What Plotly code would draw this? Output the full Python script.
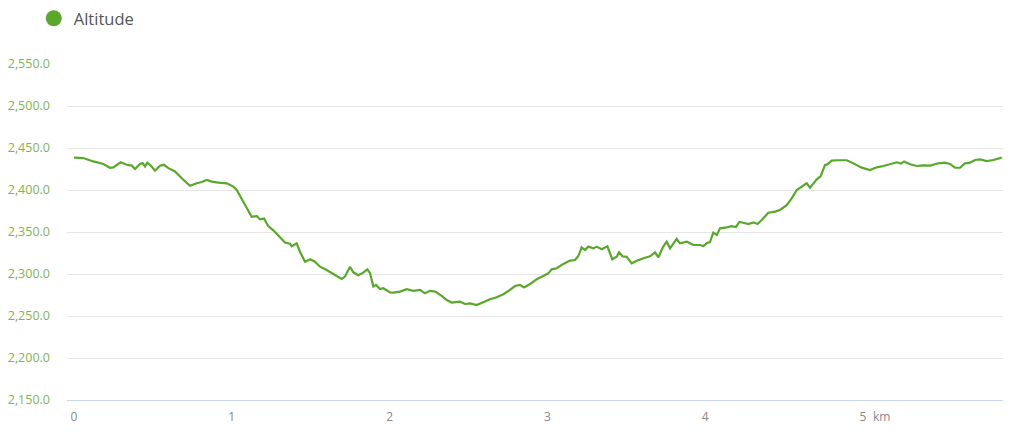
import plotly.graph_objects as go

# distance along the track (km) and altitude (m)
distance_km = [
    0.0, 0.059, 0.122, 0.186, 0.228, 0.249, 0.296, 0.334, 0.366, 0.387,
    0.418, 0.435, 0.450, 0.465, 0.492, 0.513, 0.545, 0.570, 0.598, 0.640,
    0.683, 0.735, 0.778, 0.809, 0.841, 0.873, 0.914, 0.968, 1.010, 1.031,
    1.073, 1.126, 1.158, 1.179, 1.204, 1.231, 1.263, 1.305, 1.337, 1.369,
    1.380, 1.411, 1.432, 1.464, 1.496, 1.527, 1.559, 1.601, 1.643, 1.696,
    1.717, 1.749, 1.770, 1.802, 1.833, 1.859, 1.876, 1.897, 1.914, 1.939,
    1.960, 2.003, 2.024, 2.066, 2.108, 2.150, 2.193, 2.224, 2.256, 2.288,
    2.330, 2.362, 2.394, 2.446, 2.478, 2.510, 2.552, 2.594, 2.636, 2.679,
    2.721, 2.763, 2.795, 2.826, 2.852, 2.890, 2.932, 2.974, 3.006, 3.027,
    3.059, 3.101, 3.143, 3.175, 3.196, 3.217, 3.238, 3.259, 3.291, 3.312,
    3.344, 3.380, 3.411, 3.439, 3.454, 3.477, 3.502, 3.534, 3.566, 3.608,
    3.650, 3.682, 3.703, 3.734, 3.756, 3.777, 3.819, 3.840, 3.883, 3.925,
    3.967, 3.988, 4.009, 4.030, 4.051, 4.073, 4.094, 4.136, 4.168, 4.195,
    4.216, 4.241, 4.273, 4.305, 4.331, 4.358, 4.400, 4.442, 4.474, 4.516,
    4.548, 4.580, 4.612, 4.643, 4.664, 4.707, 4.732, 4.759, 4.774, 4.802,
    4.833, 4.897, 4.939, 4.992, 5.044, 5.087, 5.129, 5.171, 5.214, 5.241,
    5.260, 5.298, 5.340, 5.382, 5.425, 5.477, 5.520, 5.551, 5.583, 5.615,
    5.646, 5.678, 5.710, 5.742, 5.784, 5.826, 5.879,
]
altitude_m = [
    2438.5, 2438, 2434, 2431, 2426.5, 2427, 2433, 2430, 2429, 2425,
    2431, 2432, 2428, 2432.5, 2428, 2423, 2429, 2430, 2426, 2422,
    2414, 2405, 2408, 2409.5, 2412, 2410, 2408.7, 2408, 2404, 2400,
    2386, 2368, 2369, 2365, 2366, 2357, 2352, 2344, 2337.5, 2336,
    2333, 2336.5, 2326.5, 2314.6, 2317.5, 2314.6, 2308.7, 2304.8, 2300, 2294,
    2297, 2308.7, 2302, 2298.5, 2301.6, 2305.6, 2301, 2285, 2287, 2282,
    2283, 2278, 2277.8, 2279, 2282, 2280, 2281, 2277, 2280, 2279,
    2274, 2269, 2266, 2267, 2264.3, 2265, 2263, 2267, 2270, 2272.3,
    2276, 2281, 2285.7, 2287, 2284, 2288, 2293.7, 2297.6, 2300.8, 2305.6,
    2306.8, 2312, 2316, 2316.7, 2321.4, 2331.8, 2328.6, 2332.6, 2330.5, 2332.6,
    2329.5, 2333, 2317.5, 2320.5, 2326, 2321, 2320.5, 2312.7, 2315.8, 2318.7,
    2321, 2325.8, 2319.9, 2332.6, 2338.5, 2330.6, 2341.7, 2336.5, 2338.5, 2334.5,
    2334.5, 2333.3, 2336.5, 2338, 2349.2, 2346.5, 2354.4, 2355.6, 2357, 2356,
    2361.9, 2361, 2359.5, 2361.5, 2359.5, 2364.3, 2373, 2374.3, 2376.2, 2382,
    2390, 2400, 2404, 2408, 2402.7, 2412.7, 2416.7, 2429.8, 2430.5, 2434.9,
    2435.4, 2435.4, 2431.7, 2426.6, 2423.8, 2427, 2428.6, 2430.6, 2433, 2431.5,
    2434, 2430.6, 2428.6, 2429.4, 2429, 2431.8, 2432.5, 2431, 2426.5, 2426.5,
    2431.8, 2432.5, 2435.7, 2436.5, 2434.5, 2435.7, 2438.5,
]

y_ticks = [2150, 2200, 2250, 2300, 2350, 2400, 2450, 2500, 2550]
x_ticks = [0, 1, 2, 3, 4, 5]

green = "#5aa82b"

fig = go.Figure()
fig.add_trace(go.Scatter(x=distance_km, y=altitude_m, mode="lines",
                         line=dict(color=green, width=2.2), showlegend=False,
                         hovertemplate="%{y:,.1f} m<extra></extra>"))
# legend entry shown as a round marker
fig.add_trace(go.Scatter(x=[None], y=[None], mode="markers", name="Altitude",
                         marker=dict(color=green, size=16, symbol="circle")))

# the page body adds 8px around the figure, so the figure is 8px smaller
fig.update_layout(
    width=1016, height=424,
    margin=dict(l=59, r=21, t=56, b=32, autoexpand=False),
    plot_bgcolor="white", paper_bgcolor="white",
    font=dict(family="Open Sans, sans-serif"),
    showlegend=True,
    legend=dict(x=-0.0355, y=1.1875, xanchor="left", yanchor="top",
                orientation="h", itemwidth=30,
                font=dict(size=16.5, color="#555555")),
    xaxis=dict(range=[-0.0444, 5.887], tickvals=x_ticks,
               ticktext=[str(v) for v in x_ticks],
               showgrid=False, zeroline=False,
               showline=True, linecolor="#ccd6eb", linewidth=1,
               ticklabelstandoff=6,
               tickfont=dict(size=12, color="#888888")),
    yaxis=dict(range=[2150, 2550], tickvals=y_ticks,
               ticktext=[f"{v:,.1f}" for v in y_ticks],
               showgrid=True, gridcolor="#e6e6e6", gridwidth=1,
               zeroline=False, ticklabelstandoff=16,
               tickfont=dict(size=12.5, color="#80b44f")),
    annotations=[dict(x=5.114, y=0, xref="x", yref="paper", yanchor="middle",
                      yshift=-16, text="km", showarrow=False,
                      font=dict(size=12, color="#888888"))],
)

fig.write_html("out.html")
